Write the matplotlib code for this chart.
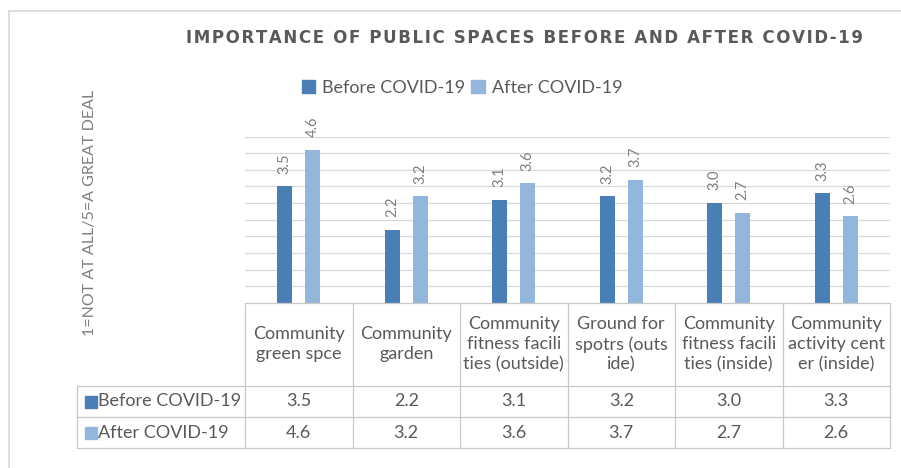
import numpy as np
import matplotlib
matplotlib.use('Agg')
from matplotlib import pyplot as plt
from matplotlib.patches import Patch, Rectangle

categories = ['Community\ngreen spce', 'Community\ngarden', 'Community\nfitness facili\nties (outside)',
              'Ground for\nspotrs (outs\nide)', 'Community\nfitness facili\nties (inside)',
              'Community\nactivity cent\ner (inside)']
before = [3.5, 2.2, 3.1, 3.2, 3.0, 3.3]
after = [4.6, 3.2, 3.6, 3.7, 2.7, 2.6]
series_names = ['Before COVID-19', 'After COVID-19']
title = 'IMPORTANCE OF PUBLIC SPACES BEFORE AND AFTER COVID-19'
ylabel = '1=NOT AT ALL/5=A GREAT DEAL'

c_before = '#4a7fb6'
c_after = '#93b6dd'
grid_c = '#d9d9d9'
line_c = '#c8c8c8'
txt_c = '#595959'
lab_c = '#7f7f7f'
font = ['Lato', 'DejaVu Sans']

W, H = 901, 468
fig = plt.figure(figsize=(W / 100, H / 100), dpi=100)

# plot area in pixels: left 245, right 890, baseline 302.7, top(5.0) 136.7
ax = fig.add_axes([245 / W, (H - 302.7) / H, (890 - 245) / W, (302.7 - 136.7) / H])
ax.set_xlim(-0.5, len(categories) - 0.5)
ax.set_ylim(0, 5)
ax.set_yticks(np.arange(0.5, 5.01, 0.5))
ax.yaxis.grid(True, color=grid_c, lw=0.9)
ax.set_axisbelow(True)
ax.tick_params(left=False, bottom=False, labelleft=False, labelbottom=False)
for s in ax.spines.values():
    s.set_visible(False)

x = np.arange(len(categories))
off, bw = 0.13, 0.14
ax.bar(x - off, before, bw, color=c_before)
ax.bar(x + off, after, bw, color=c_after)
for xs, vals in ((x - off, before), (x + off, after)):
    for xi, v in zip(xs, vals):
        ax.text(xi, v + 0.38, f'{v:.1f}', rotation=90, ha='center', va='bottom',
                fontsize=10.5, color=lab_c, family=font)

# data table below the plot (data units: 33.2 px per unit in y, 107.5 px per column)
upx = 33.2
head_b = -(386 - 302.7) / upx
row1_b = -(417 - 302.7) / upx
row2_b = -(448 - 302.7) / upx
lab_l = (77 - 245) / 107.5 - 0.5
right = len(categories) - 0.5
kw = dict(color=line_c, lw=0.9, clip_on=False)
ax.plot([-0.5, right], [0, 0], **kw)
ax.plot([lab_l, right], [head_b, head_b], **kw)
ax.plot([lab_l, right], [row1_b, row1_b], **kw)
ax.plot([lab_l, right], [row2_b, row2_b], **kw)
ax.plot([lab_l, lab_l], [head_b, row2_b], **kw)
for b in np.arange(-0.5, right + 0.01, 1.0):
    ax.plot([b, b], [0, row2_b], **kw)

for i, cat in enumerate(categories):
    ax.text(i, head_b / 2, cat, ha='center', va='center', fontsize=13,
            color=txt_c, family=font, linespacing=1.3)
    ax.text(i, (head_b + row1_b) / 2, f'{before[i]:.1f}', ha='center', va='center',
            fontsize=13, color=txt_c, family=font)
    ax.text(i, (row1_b + row2_b) / 2, f'{after[i]:.1f}', ha='center', va='center',
            fontsize=13, color=txt_c, family=font)

sq_x = (91 - 245) / 107.5 - 0.5
tx_x = (98 - 245) / 107.5 - 0.5
for (yb, yt), name, col in zip(((row1_b, head_b), (row2_b, row1_b)), series_names, (c_before, c_after)):
    yc = (yb + yt) / 2
    ax.plot([sq_x], [yc], marker='s', ms=8.2, color=col, clip_on=False, ls='none')
    ax.text(tx_x, yc, name, ha='left', va='center', fontsize=13, color=txt_c, family=font)

# legend
handles = [Patch(color=c_before, label=series_names[0]), Patch(color=c_after, label=series_names[1])]
fig.legend(handles=handles, loc='center', bbox_to_anchor=(462 / W, 1 - 88 / H), ncol=2,
           frameon=False, handlelength=0.75, handleheight=0.75, handletextpad=0.4,
           columnspacing=0.3, prop={'family': font, 'size': 13}, labelcolor=txt_c)

# title with letter spacing
spaced = '\u200a'.join(title)
fig.text(524 / W, 1 - 38 / H, spaced, ha='center', va='center', fontsize=12,
         fontweight='bold', color=txt_c, family='DejaVu Sans')

fig.text(90 / W, 1 - 213 / H, ylabel, rotation=90, ha='center', va='center',
         fontsize=11.5, color=lab_c, family=font)

fig.patches.append(Rectangle((9 / W, -0.1), 2, 1.1 - 11 / H, transform=fig.transFigure,
                             fill=False, ec='#d9d9d9', lw=1.2))

fig.savefig('out.png', dpi=100)
